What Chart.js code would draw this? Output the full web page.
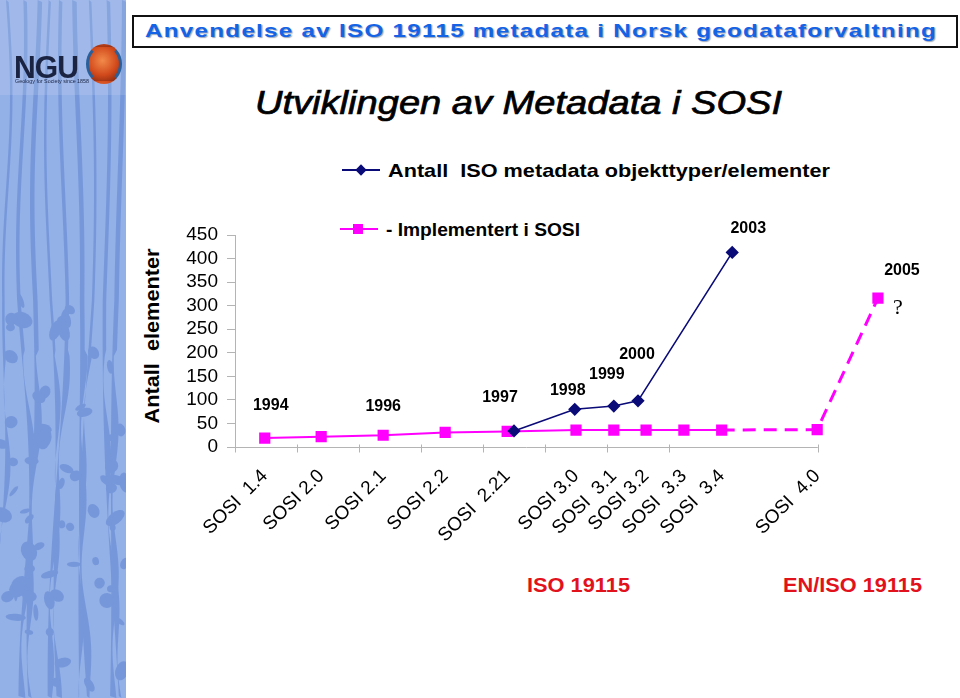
<!DOCTYPE html>
<html lang="no">
<head>
  <meta charset="UTF-8" />
  <title>Utviklingen av Metadata i SOSI</title>
  <style>
    body {
      margin: 0;
      width: 960px;
      height: 698px;
      position: relative;
      overflow: hidden;
      background: #fff;
      font-family: "Liberation Sans", Arial, sans-serif;
      color: #000;
    }
    .abs { position: absolute; white-space: pre; line-height: 1; }
    #strip { position: absolute; left: 0; top: 0; }
    .ngu { left: 14px; top: 52px; font-weight: bold; font-size: 31px; color: #1b2342; letter-spacing: -1px; }
    .ngu-sub { left: 15px; top: 78px; font-size: 6px; color: #1b2342; }
    .globe {
      position: absolute; left: 86px; top: 44px; width: 30px; height: 34px; border-radius: 50%;
      background: radial-gradient(circle at 45% 40%, #f28a4a, #d24a1c 55%, #7a230e);
      border: 3px solid #2a5f9a; border-top-color: transparent; border-bottom-color: transparent;
    }
    .titlebox {
      position: absolute; left: 132px; top: 15px; width: 822px; height: 29px;
      border: 2px solid #111;
    }
    .title { left: 145px; top: 21px; font-size: 19px; font-weight: bold; color: #1463e6; letter-spacing: 1px; text-shadow: 1px 1px 1px #9aa6bb; }
    .subtitle { left: 255px; top: 86px; font-size: 33px; font-style: italic; -webkit-text-stroke: 0.7px #000; }
    .leg { font-size: 19px; font-weight: bold; }
    .red { font-size: 21px; font-weight: bold; color: #e2121c; }
    .ytitle { font-size: 20px; font-weight: bold; }
    #wrap { position: absolute; left: 130px; top: 190px; width: 830px; height: 370px; }
  </style>
</head>
<body>
  <canvas id="strip" width="126" height="698"></canvas>
  <div class="abs ngu" id="ngu">NGU</div>
  <div class="globe"></div>
  <div class="abs ngu-sub" id="nguSub">Geology for Society since 1858</div>

  <div class="titlebox"></div>
  <div class="abs title" id="title">Anvendelse av ISO 19115 metadata i Norsk geodataforvaltning</div>
  <div class="abs subtitle" id="subtitle">Utviklingen av Metadata i SOSI</div>

  <div class="abs" style="left:342px;top:169px;width:38px;height:2px;background:#0a0a78"></div>
  <div class="abs" style="left:357px;top:166px;width:8px;height:8px;background:#0a0a78;transform:rotate(45deg)"></div>
  <div class="abs leg" id="leg1" style="left:388px;top:161px">Antall  ISO metadata objekttyper/elementer</div>

  <div class="abs" style="left:340px;top:228px;width:38px;height:2px;background:#ff00ff"></div>
  <div class="abs" style="left:353px;top:224px;width:10px;height:10px;background:#ff00ff"></div>
  <div class="abs leg" id="leg2" style="left:386px;top:220px">- Implementert i SOSI</div>

  <div class="abs ytitle" id="ytitle">Antall  elementer</div>

  <div id="wrap"><canvas id="chart"></canvas></div>

  <div class="abs red" id="red1" style="left:527px;top:574px">ISO 19115</div>
  <div class="abs red" id="red2" style="left:783px;top:574px">EN/ISO 19115</div>

  <script src="https://cdn.jsdelivr.net/npm/chart.js"></script>
  <script>
    // x axis labels (SOSI versions), one per pink point except the last
    const sosiLabels = ['SOSI  1.4', 'SOSI 2.0', 'SOSI 2.1', 'SOSI 2.2', 'SOSI  2.21', 'SOSI 3.0',
                        'SOSI  3.1', 'SOSI 3.2', 'SOSI  3.3', 'SOSI  3.4', 'SOSI  4.0'];

    // Implementert i SOSI
    const implX = [0.48, 1.39, 2.39, 3.39, 4.39, 5.5, 6.11, 6.63, 7.24, 7.85, 9.39, 10.37];
    const implY = [19, 22, 25, 31, 33, 36, 36, 36, 36, 36, 37, 316];
    const implYears = ['1994', null, '1996', null, null, null, null, null, null, null, null, '2005'];

    // Antall ISO metadata objekttyper/elementer
    const isoX = [4.5, 5.48, 6.11, 6.5, 8.02];
    const isoY = [34, 80, 87, 98, 413];
    const isoYears = ['1997', '1998', '1999', '2000', '2003'];

    const yTicks = [0, 50, 100, 150, 200, 250, 300, 350, 400, 450];
    const xTickMarks = [0, 1, 2, 3, 4, 5, 6, 7, 9.4];
    const xAxisEnd = 9.4;

    // background strip on the left: light blue with darker wavy streaks
    (function drawStrip() {
      const c = document.getElementById('strip').getContext('2d');
      c.fillStyle = '#93b0e7';
      c.fillRect(0, 0, 126, 698);
      c.fillStyle = '#7698da';
      for (let k = 0; k < 9; k++) {
        const x0 = 6 + k * 14;
        const w = 2.5 + (k % 3);
        c.beginPath();
        for (let yy = 0; yy <= 698; yy += 6) {
          const xx = x0 + 4 * Math.sin(yy / (60 + k * 7) + k) + (yy > 300 ? (yy - 300) * 0.03 * (k % 2 ? 1 : -1) : 0);
          yy === 0 ? c.moveTo(xx, yy) : c.lineTo(xx, yy);
        }
        for (let yy = 698; yy >= 0; yy -= 6) {
          const xx = x0 + w + 4 * Math.sin(yy / (60 + k * 7) + k) + (yy > 300 ? (yy - 300) * 0.03 * (k % 2 ? 1 : -1) : 0) + (yy > 350 ? 3 * Math.sin(yy / 23 + k) : 0);
          c.lineTo(xx, yy);
        }
        c.closePath();
        c.fill();
      }
      // blotchy lower part
      let seed = 7;
      const rnd = () => { seed = (seed * 9301 + 49297) % 233280; return seed / 233280; };
      for (let b = 0; b < 70; b++) {
        const bx = rnd() * 126;
        const by = 300 + rnd() * 400;
        c.beginPath();
        c.ellipse(bx, by, 3 + rnd() * 8, 2 + rnd() * 6, rnd() * 3, 0, Math.PI * 2);
        c.fill();
      }
      c.fillStyle = 'rgba(255,255,255,0.12)';
      c.fillRect(0, 0, 126, 95);
    })();

    function fitWidth(id, w) {
      const el = document.getElementById(id);
      const r = el.getBoundingClientRect().width;
      el.style.transformOrigin = 'left center';
      el.style.transform = 'scaleX(' + (w / r) + ')';
    }
    fitWidth('title', 792);
    fitWidth('subtitle', 527);
    fitWidth('leg1', 442);
    fitWidth('leg2', 194);
    fitWidth('red1', 103);
    fitWidth('red2', 139);
    fitWidth('ngu', 64);
    fitWidth('nguSub', 74);

    // y axis title, rotated, centred at (152, 336)
    const yt = document.getElementById('ytitle');
    const ytw = yt.getBoundingClientRect().width;
    yt.style.left = (152 - ytw / 2) + 'px';
    yt.style.top = (336 - 10) + 'px';
    yt.style.transform = 'rotate(-90deg) scaleX(' + (175 / ytw) + ')';

    // offsets of the year notes from their points
    const noteOffset = {
      '1994': [6, -32], '1996': [0, -29], '1997': [-14, -33], '1998': [-7, -19],
      '1999': [-7, -31], '2000': [-1, -46], '2003': [16, -24], '2005': [24, -28]
    };

    const extras = {
      id: 'extras',
      beforeDatasetsDraw(chart) {
        const { ctx, scales: { x, y } } = chart;
        const y0 = y.getPixelForValue(0) + 0.5;
        ctx.save();
        ctx.strokeStyle = '#b4b4b4';
        ctx.lineWidth = 1;
        ctx.beginPath();
        ctx.moveTo(x.getPixelForValue(0), y0);
        ctx.lineTo(x.getPixelForValue(xAxisEnd), y0);
        xTickMarks.forEach(v => {
          const px = Math.round(x.getPixelForValue(v)) + 0.5;
          ctx.moveTo(px, y0 - 3);
          ctx.lineTo(px, y0 + 5);
        });
        ctx.stroke();
        ctx.restore();
      },
      afterDatasetsDraw(chart) {
        const { ctx } = chart;
        ctx.save();
        ctx.fillStyle = '#000';
        ctx.textAlign = 'center';
        ctx.textBaseline = 'middle';
        ctx.font = 'bold 16px "Liberation Sans", Arial, sans-serif';
        const put = (dsIndex, years) => {
          const pts = chart.getDatasetMeta(dsIndex).data;
          years.forEach((t, i) => {
            if (!t) return;
            const [dx, dy] = noteOffset[t];
            ctx.fillText(t, pts[i].x + dx, pts[i].y + dy);
          });
        };
        put(0, isoYears);
        put(1, implYears);
        const last = chart.getDatasetMeta(1).data[implX.length - 1];
        ctx.font = '22px "Liberation Serif", serif';
        ctx.fillText('?', last.x + 20, last.y + 10);
        ctx.restore();
      }
    };

    new Chart(document.getElementById('chart'), {
      type: 'line',
      data: {
        datasets: [
          {
            label: 'Antall ISO metadata objekttyper/elementer',
            data: isoX.map((v, i) => ({ x: v, y: isoY[i] })),
            borderColor: '#0a0a78',
            backgroundColor: '#0a0a78',
            borderWidth: 1.6,
            pointStyle: 'rectRot',
            pointRadius: 5.5,
            pointHoverRadius: 5.5,
            tension: 0
          },
          {
            label: '- Implementert i SOSI',
            data: implX.map((v, i) => ({ x: v, y: implY[i] })),
            borderColor: '#ff00ff',
            backgroundColor: '#ff00ff',
            borderWidth: 2,
            pointStyle: 'rect',
            pointRadius: 6.5,
            pointHoverRadius: 6.5,
            tension: 0,
            segment: {
              borderDash: c => c.p0DataIndex >= 9 ? [13, 8] : undefined,
              borderWidth: c => c.p0DataIndex >= 9 ? 3 : undefined
            }
          }
        ]
      },
      options: {
        responsive: true,
        maintainAspectRatio: false,
        animation: false,
        layout: { padding: { left: 0, top: 45, right: 43, bottom: 0 } },
        plugins: { legend: { display: false }, tooltip: { enabled: false } },
        scales: {
          x: {
            type: 'linear',
            min: 0,
            max: 11,
            afterBuildTicks: axis => {
              axis.ticks = sosiLabels.map((s, i) => ({ value: implX[i] }));
            },
            afterFit: s => { s.height = 113; },
            grid: { display: false },
            border: { display: false },
            ticks: {
              autoSkip: false,
              minRotation: 45,
              maxRotation: 45,
              padding: 10,
              color: '#000',
              font: { family: '"Liberation Sans", Arial, sans-serif', size: 19 },
              callback: (v, i) => sosiLabels[i]
            }
          },
          y: {
            min: 0,
            max: 450,
            afterBuildTicks: axis => { axis.ticks = yTicks.map(v => ({ value: v })); },
            afterFit: s => { s.width = 105; },
            grid: { drawOnChartArea: false, tickLength: 8, color: '#b4b4b4' },
            border: { display: true, color: '#b4b4b4' },
            ticks: {
              autoSkip: false,
              padding: 9,
              color: '#000',
              font: { family: '"Liberation Sans", Arial, sans-serif', size: 19, lineHeight: 1 }
            }
          }
        }
      },
      plugins: [extras]
    });
  </script>
</body>
</html>
